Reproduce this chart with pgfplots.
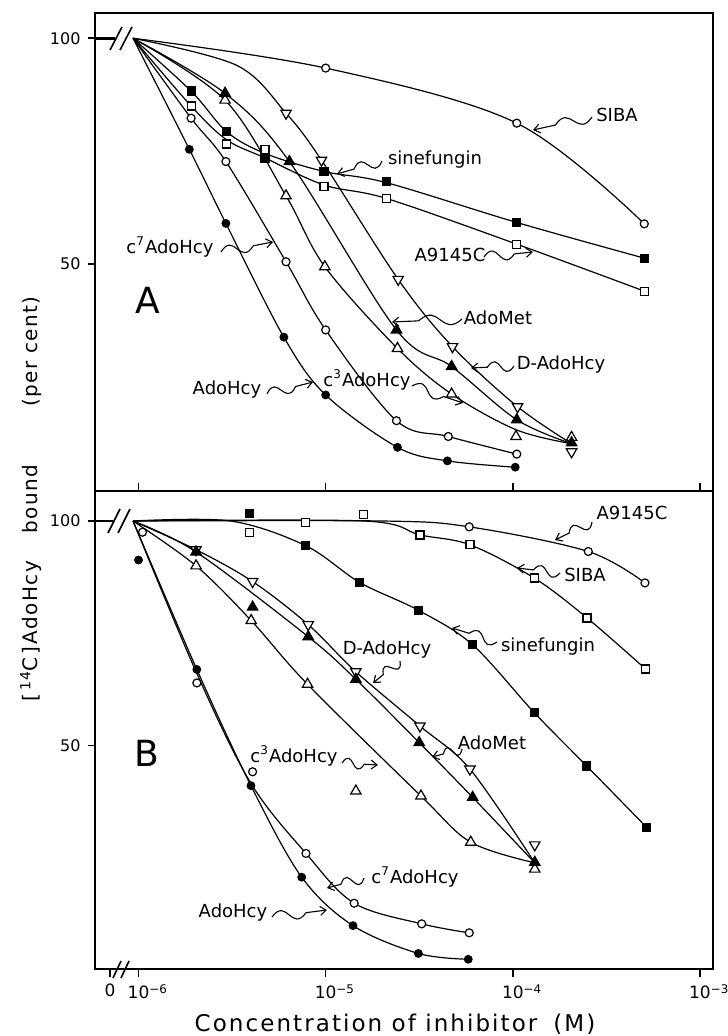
\documentclass[border=0pt]{standalone}
\usepackage{fontspec}
\setmainfont{DejaVu Sans}
\newfontfamily\spaced[LetterSpace=9]{DejaVu Sans}
\newfontfamily\spacedy[LetterSpace=7]{DejaVu Sans}
\usepackage{pgfplots}
\pgfplotsset{compat=1.18}
\usetikzlibrary{calc,arrows.meta}

\pgfplotsset{
  crv/.style={black, line width=0.6pt, smooth, tension=0.55, no marks},
  ocirc/.style={only marks, mark=*, mark size=2.0pt, mark options={draw=black, fill=white, line width=0.6pt}},
  fcirc/.style={only marks, mark=*, mark size=1.9pt, mark options={draw=black, fill=black, line width=0.6pt}},
  osq/.style={only marks, mark=square*, mark size=2.0pt, mark options={draw=black, fill=white, line width=0.6pt}},
  fsq/.style={only marks, mark=square*, mark size=2.0pt, mark options={draw=black, fill=black, line width=0.6pt}},
  otri/.style={only marks, mark=triangle*, mark size=3.0pt, mark options={draw=black, fill=white, line width=0.6pt}},
  ftri/.style={only marks, mark=triangle*, mark size=3.0pt, mark options={draw=black, fill=black, line width=0.6pt}},
  odtri/.style={only marks, mark=triangle*, mark size=3.0pt, mark options={draw=black, fill=white, line width=0.6pt, rotate=180}},
}
\tikzset{sqa/.style={-{Straight Barb[length=3pt,width=4.5pt]}, line width=0.55pt}}
\newcommand\squig[2]{%
  \coordinate (sqS) at (#1); \coordinate (sqE) at (#2);
  \coordinate (sqM) at ($(sqS)!0.62!(sqE)$);
  \draw[sqa] (sqS) .. controls ($(sqS)!0.5!(sqM)!9pt!90:(sqM)$) and ($(sqS)!0.5!(sqM)!9pt!-90:(sqM)$) .. (sqM) -- (sqE);}

\begin{document}
\begin{tikzpicture}
% ---------------- Panel A ----------------
\begin{axis}[xmode=log, log basis x=10,
  scale only axis, width=308.9pt, height=239.15pt,
  xmin=5.89e-7, xmax=1.178e-3,
  xtick={1e-6,1e-5,1e-4,1e-3},
  xminorticks=false, yminorticks=false,
  ytick={50,100}, yticklabels={50,100},
  ytick pos=left, ytick align=outside,
  axis line style={line width=1pt},
  major tick length=4pt,
  tick style={black,line width=0.8pt},
  y tick label style={font=\fontsize{8}{9}\selectfont},
  clip=false,
  at={(47.75pt,272.5pt)}, anchor=south west,
  ymin=-0.27, ymax=105.67, xtick pos=bottom, xtick align=inside, xticklabels={}]
 \addplot[black, line width=1.4pt] coordinates {(5.89e-7,100) (7.49e-7,100)};
 % SIBA
 \addplot[crv] coordinates {(9.35e-7,100) (1e-5,93.4) (1.05e-4,81.2) (5.04e-4,58.9)};
 % sinefungin
 \addplot[crv] coordinates {(9.35e-7,100) (1.91e-6,88.3) (2.96e-6,79.3) (4.74e-6,74.5) (9.8e-6,70.5) (2.12e-5,68.0) (1.05e-4,59.2) (5.04e-4,51.3)};
 % A9145C
 \addplot[crv] coordinates {(9.35e-7,100) (1.91e-6,85.0) (2.96e-6,77.5) (4.74e-6,73.5) (9.8e-6,67.5) (2.12e-5,64.5) (1.05e-4,54.4) (5.04e-4,44.0)};
 % c7AdoHcy
 \addplot[crv] coordinates {(9.35e-7,100) (1.91e-6,82.3) (2.93e-6,72.7) (6.14e-6,50.5) (1e-5,35.4) (2.39e-5,15.3) (4.52e-5,11.8) (1.05e-4,7.9)};
 % AdoHcy
 \addplot[crv] coordinates {(9.35e-7,100) (1.87e-6,75.4) (2.93e-6,59.0) (5.98e-6,33.8) (1e-5,21.0) (2.42e-5,9.4) (4.47e-5,6.4) (1.03e-4,5.0)};
 % c3AdoHcy
 \addplot[crv] coordinates {(9.35e-7,100) (2.90e-6,86.3) (6.14e-6,65.1) (9.9e-6,49.4) (2.42e-5,31.3) (4.71e-5,21.2) (1.04e-4,13.3) (2.06e-4,10.2)};
 % AdoMet
 \addplot[crv] coordinates {(9.35e-7,100) (2.90e-6,87.8) (6.40e-6,72.7) (2.39e-5,35.4) (4.71e-5,27.3) (1.05e-4,15.5) (2.06e-4,10.2)};
 % D-AdoHcy
 \addplot[crv] coordinates {(9.35e-7,100) (3.35e-6,94.0) (6.14e-6,83.4) (9.5e-6,73.0) (2.44e-5,46.6) (4.76e-5,31.7) (1.06e-4,18.4) (2.06e-4,10.2)};
 % markers
 \addplot[ocirc] coordinates {(1e-5,93.4) (1.05e-4,81.2) (5.04e-4,58.9)};
 \addplot[fsq] coordinates {(1.91e-6,88.3) (2.96e-6,79.3) (4.74e-6,73.3) (9.8e-6,70.5) (2.12e-5,68.2) (1.05e-4,59.2) (5.04e-4,51.3)};
 \addplot[osq] coordinates {(1.91e-6,85.0) (2.96e-6,76.6) (4.74e-6,75.3) (9.8e-6,67.1) (2.12e-5,64.5) (1.05e-4,54.4) (5.04e-4,44.0)};
 \addplot[ocirc] coordinates {(1.91e-6,82.3) (2.93e-6,72.7) (6.14e-6,50.5) (1e-5,35.4) (2.39e-5,15.3) (4.52e-5,11.8) (1.05e-4,7.9)};
 \addplot[fcirc] coordinates {(1.87e-6,75.4) (2.93e-6,59.0) (5.98e-6,33.8) (1e-5,21.0) (2.42e-5,9.4) (4.47e-5,6.4) (1.03e-4,5.0)};
 \addplot[otri] coordinates {(2.90e-6,86.3) (6.14e-6,65.1) (9.9e-6,49.4) (2.42e-5,31.3) (4.71e-5,21.2) (1.04e-4,11.8) (2.06e-4,11.6)};
 \addplot[odtri] coordinates {(6.14e-6,83.4) (9.5e-6,73.0) (2.44e-5,46.6) (4.76e-5,31.7) (1.06e-4,18.4) (2.06e-4,8.4)};
 \addplot[ftri] coordinates {(2.90e-6,87.8) (6.40e-6,72.7) (2.39e-5,35.4) (4.71e-5,27.3) (1.05e-4,15.5) (2.06e-4,10.4)};
\end{axis}
% ---------------- Panel B ----------------
\begin{axis}[xmode=log, log basis x=10,
  scale only axis, width=308.9pt, height=239.15pt,
  xmin=5.89e-7, xmax=1.178e-3,
  xtick={1e-6,1e-5,1e-4,1e-3},
  xminorticks=false, yminorticks=false,
  ytick={50,100}, yticklabels={50,100},
  ytick pos=left, ytick align=outside,
  axis line style={line width=1pt},
  major tick length=4pt,
  tick style={black,line width=0.8pt},
  y tick label style={font=\fontsize{8}{9}\selectfont},
  x tick label style={font=\fontsize{8.5}{10}\selectfont},
  clip=false,
  at={(47.75pt,33.35pt)}, anchor=south west,
  ymin=0.07, ymax=106.69, xtick pos=bottom, xtick align=outside,
  xticklabels={{10\rlap{\textsuperscript{−6}}},{10\rlap{\textsuperscript{−5}}},{10\rlap{\textsuperscript{−4}}},{10\rlap{\textsuperscript{−3}}}},
  extra x ticks={7.05e-7}, extra x tick labels={0}]
 \addplot[black, line width=1.4pt] coordinates {(5.89e-7,100) (7.3e-7,100)};
 % A9145C (open circles)
 \addplot[crv] coordinates {(9.35e-7,100) (2e-5,100) (5.85e-5,98.7) (2.53e-4,93.2) (5.08e-4,86.2)};
 % SIBA (open squares)
 \addplot[crv] coordinates {(9.35e-7,100) (1.6e-5,100) (3.19e-5,96.9) (5.90e-5,94.7) (1.30e-4,87.3) (2.49e-4,78.4) (5.12e-4,67.0)};
 % sinefungin
 \addplot[crv] coordinates {(9.35e-7,100) (3.1e-6,100) (7.82e-6,94.5) (1.52e-5,86.3) (3.13e-5,80.1) (6.10e-5,72.4) (1.30e-4,57.3) (2.48e-4,45.4) (5.19e-4,31.7)};
 % D-AdoHcy
 \addplot[crv] coordinates {(9.35e-7,100) (2.03e-6,93.6) (4.07e-6,86.5) (8.07e-6,76.9) (1.45e-5,66.4) (3.19e-5,54.3) (5.90e-5,44.7) (1.31e-4,23.8)};
 % AdoMet
 \addplot[crv] coordinates {(9.35e-7,100) (2.03e-6,93.1) (8.07e-6,74.2) (1.45e-5,64.7) (3.16e-5,50.6) (6.10e-5,38.4) (1.31e-4,23.8)};
 % c3AdoHcy
 \addplot[crv] coordinates {(9.35e-7,100) (2.03e-6,90.0) (4.0e-6,77.8) (8.0e-6,63.6) (3.23e-5,38.7) (5.96e-5,28.4) (1.31e-4,23.8)};
 % c7AdoHcy
 \addplot[crv] coordinates {(9.35e-7,100) (2.05e-6,66.0) (3.99e-6,41.5) (7.85e-6,25.9) (1.42e-5,14.8) (3.26e-5,10.2) (5.85e-5,8.2)};
 % AdoHcy
 \addplot[crv] coordinates {(9.35e-7,100) (2.05e-6,66.9) (3.99e-6,41.0) (7.45e-6,20.6) (1.40e-5,9.8) (3.13e-5,3.6) (5.78e-5,2.3)};
 % markers
 \addplot[ocirc] coordinates {(5.85e-5,98.7) (2.53e-4,93.2) (5.08e-4,86.2)};
 \addplot[osq] coordinates {(3.91e-6,97.5) (7.82e-6,99.7) (1.59e-5,101.4) (3.19e-5,96.9) (5.90e-5,94.7) (1.30e-4,87.3) (2.49e-4,78.4) (5.12e-4,67.0)};
 \addplot[fsq] coordinates {(3.91e-6,101.7) (7.82e-6,94.5) (1.52e-5,86.3) (3.13e-5,80.1) (6.10e-5,72.4) (1.30e-4,57.3) (2.48e-4,45.4) (5.19e-4,31.7)};
 \addplot[odtri] coordinates {(2.03e-6,93.6) (4.07e-6,86.5) (8.07e-6,76.9) (1.45e-5,66.4) (3.19e-5,54.3) (5.90e-5,44.7) (1.31e-4,27.8)};
 \addplot[otri] coordinates {(2.03e-6,90.0) (4.0e-6,77.8) (8.0e-6,63.6) (1.45e-5,39.8) (3.23e-5,38.7) (5.96e-5,28.4) (1.31e-4,22.4)};
 \addplot[ftri] coordinates {(2.03e-6,93.1) (4.07e-6,80.8) (8.07e-6,74.2) (1.45e-5,64.7) (3.16e-5,50.6) (6.10e-5,38.4) (1.31e-4,23.9)};
 \addplot[ocirc] coordinates {(1.05e-6,97.5) (2.05e-6,63.9) (4.07e-6,44.1) (7.85e-6,25.9) (1.42e-5,14.8) (3.26e-5,10.2) (5.85e-5,8.2)};
 \addplot[fcirc] coordinates {(1e-6,91.3) (2.05e-6,66.9) (3.99e-6,41.0) (7.45e-6,20.6) (1.40e-5,9.8) (3.13e-5,3.6) (5.78e-5,2.3)};
\end{axis}
% ---------------- annotations (pixel grid of the figure) ----------------
\begin{scope}[shift={(0pt,518pt)}, x=0.5pt, y=-0.5pt, font=\fontsize{9}{10}\selectfont]
 % axis breaks
 \draw[line width=0.8pt] (110,50) -- (122,27) (120,50) -- (132,27);
 \draw[line width=0.8pt] (108,533) -- (120,509) (118,533) -- (130,509);
 \draw[line width=0.8pt] (113,978) -- (121,961) (121,978) -- (129,961);
 % panel letters
 \node[font=\fontsize{18}{20}\selectfont] at (148,300) {A};
 \node[font=\fontsize{18}{20}\selectfont] at (147,753) {B};
 % panel A labels
 \node at (617,115) {SIBA};            \squig{592,117}{533,130}
 \node at (435,160) {sinefungin};      \squig{382,161}{337,174}
 \node at (450,255) {A9145C};          \squig{484,257}{533,252}
 \node at (498,318) {AdoMet};          \squig{462,319}{392,322}
 \node at (561,365) {D-AdoHcy};        \squig{514,366}{471,368}
 \node at (367,380) {c\textsuperscript{3}AdoHcy}; \squig{412,386}{463,403}
 \node at (227,390) {AdoHcy};          \squig{267,394}{313,382}
 \node at (170,247) {c\textsuperscript{7}AdoHcy}; \squig{221,252}{273,242}
 % panel B labels
 \node at (632,513) {A9145C};          \squig{592,522}{555,540}
 \node at (585,575) {SIBA};            \squig{560,573}{517,568}
 \node at (548,647) {sinefungin};      \squig{497,642}{452,628}
 \node at (492,743) {AdoMet};          \squig{462,749}{432,757}
 \node at (387,650) {D-AdoHcy};        \squig{400,661}{373,683}
 \node at (294,756) {c\textsuperscript{3}AdoHcy}; \squig{342,763}{378,765}
 \node at (415,877) {c\textsuperscript{7}AdoHcy}; \squig{364,878}{327,888}
 \node at (233,913) {AdoHcy};          \squig{272,917}{327,910}
 % axis titles
 \node[rotate=90, font=\fontsize{10}{12}\spacedy] at (31,499)
   {[\kern1.5pt\textsuperscript{14}C\kern1.5pt]\kern1pt AdoHcy\hspace{14pt}bound\hspace{29pt}(per cent)};
 \node[font=\fontsize{11.5}{13}\spaced] at (395,1024) {Concentration of inhibitor\hspace{8pt}(M)};
\end{scope}
\pgfresetboundingbox
\path[use as bounding box] (0pt,0pt) rectangle (363.5pt,518pt);
\end{tikzpicture}
\end{document}
